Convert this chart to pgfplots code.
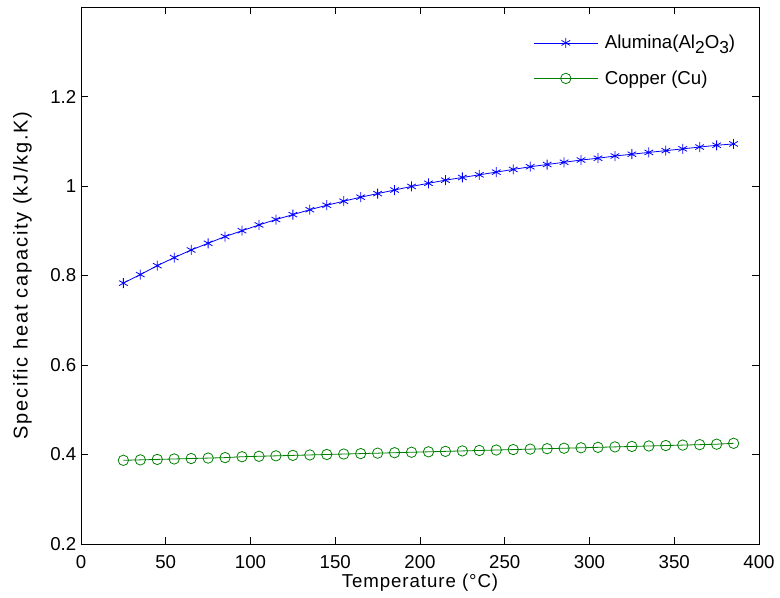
\documentclass[border=0pt]{standalone}
\usepackage{pgfplots}
\pgfplotsset{compat=1.18}
\usepackage{fontspec}
\setmainfont{Liberation Sans}
\definecolor{mblue}{RGB}{0,0,255}
\definecolor{mgreen}{RGB}{0,128,0}
\newcommand{\sub}[1]{\raisebox{-0.45ex}{\fontsize{13}{13}\selectfont #1}}
\begin{document}
\begin{tikzpicture}
\begin{axis}[
  scale only axis,
  width=508.5pt, height=402.75pt,
  xmin=0, xmax=400, ymin=0.2, ymax=1.4,
  xtick={0,50,...,400},
  ytick={0.2,0.4,0.6,0.8,1,1.2},
  yticklabels={0.2,0.4,0.6,0.8,1,1.2},
  tick align=inside,
  major tick length=5pt,
  tick style={black, line width=0.6pt},
  axis line style={black, line width=0.6pt},
  /pgf/number format/assume math mode=true,
  tick label style={font=\fontsize{14}{16}\selectfont},
  xticklabel style={yshift=-5pt},
  xlabel={Temperature (°C)},
  ylabel={Specific heat capacity (kJ/kg.K)},
  xlabel style={font=\fontsize{14}{16}\selectfont\addfontfeature{LetterSpace=5}, yshift=3pt},
  ylabel style={font=\fontsize{15}{17}\selectfont\addfontfeature{LetterSpace=9}, yshift=7pt},
  legend style={draw=none, fill=none, at={(0.661,0.958)}, anchor=north west,
    font=\fontsize{14}{16}\selectfont, row sep=11pt},
  legend cell align=left,
  legend image code/.code={%
    \draw[mark repeat=2,mark phase=2,#1] plot coordinates {(0pt,0pt) (24pt,0pt) (48pt,0pt)};
    \path (51pt,0pt);},
]
\addplot[color=mblue, line width=0.6pt, mark=asterisk, mark size=3.75pt, mark options={solid}] coordinates {
(25,0.783) (35,0.802) (45,0.822) (55,0.840) (65,0.857) (75,0.872) (85,0.887) (95,0.900)
(105,0.913) (115,0.925) (125,0.936) (135,0.947) (145,0.957) (155,0.966) (165,0.975)
(175,0.983) (185,0.991) (195,0.999) (205,1.006) (215,1.013) (225,1.019) (235,1.025)
(245,1.031) (255,1.037) (265,1.043) (275,1.048) (285,1.053) (295,1.058) (305,1.062)
(315,1.067) (325,1.071) (335,1.075) (345,1.079) (355,1.083) (365,1.087) (375,1.091) (385,1.094)
};
\addlegendentry{Alumina(Al\sub{2}O\sub{3})}
\addplot[color=mgreen, line width=0.6pt, mark=o, mark size=3.9pt] coordinates {
(25,0.387) (35,0.388) (45,0.389) (55,0.390) (65,0.391) (75,0.392) (85,0.393) (95,0.395)
(105,0.396) (115,0.397) (125,0.398) (135,0.399) (145,0.400) (155,0.401) (165,0.402)
(175,0.403) (185,0.404) (195,0.405) (205,0.406) (215,0.407) (225,0.408) (235,0.409)
(245,0.410) (255,0.411) (265,0.412) (275,0.413) (285,0.414) (295,0.415) (305,0.416)
(315,0.417) (325,0.418) (335,0.419) (345,0.420) (355,0.421) (365,0.422) (375,0.423) (385,0.425)
};
\addlegendentry{Copper (Cu)}
\end{axis}
\path[use as bounding box] ([shift={(-60.75pt,-40.5pt)}]current axis.south west) rectangle ([shift={(15.75pt,5.25pt)}]current axis.north east);
\end{tikzpicture}
\end{document}
